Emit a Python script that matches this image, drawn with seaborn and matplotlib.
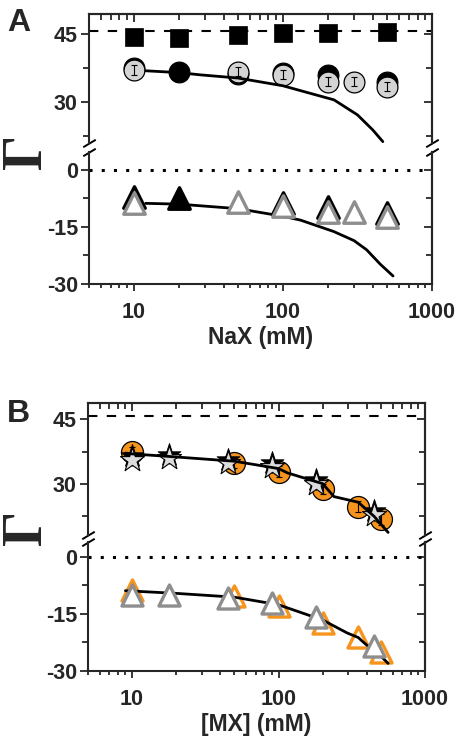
import matplotlib
matplotlib.use('Agg')
import matplotlib.pyplot as plt
import seaborn as sns

# ---- panel A, upper part (Gamma > 0)
a_sq_x = [10, 20, 50, 100, 200, 500]
a_sq_y = [44.4, 44.1, 44.8, 45.2, 45.2, 45.5]
a_bcirc_x = [10, 20, 50, 100, 200, 500]
a_bcirc_y = [37.6, 36.7, 36.3, 36.5, 36.0, 34.5]
a_gcirc_x = [10, 50, 100, 200, 300, 500]
a_gcirc_y = [37.1, 36.7, 36.0, 34.5, 34.5, 33.4]
a_gcirc_err = [1.1, 1.0, 1.0, 1.0, 1.0, 1.0]
a_fit_up_x = [12, 20, 28, 50, 100, 150, 220, 316, 400, 468]
a_fit_up_y = [36.9, 36.5, 36.0, 35.3, 33.6, 32.0, 30.5, 27.2, 23.9, 21.3]
# ---- panel A, lower part (Gamma < 0)
a_btri_open_x = [10, 100, 200, 500]
a_btri_open_y = [-7.0, -8.8, -9.8, -11.3]
a_btri_fill_x = [20]
a_btri_fill_y = [-7.4]
a_gtri_x = [10, 50, 100, 200, 300, 500]
a_gtri_y = [-8.8, -8.5, -9.4, -11.0, -11.2, -12.3]
a_fit_lo_x = [12, 20, 50, 100, 131, 219, 300, 364, 450, 548]
a_fit_lo_y = [-8.8, -9.0, -10.2, -12.2, -13.2, -16.2, -18.6, -21.0, -24.8, -27.9]

# ---- panel B, upper part
b_circ_x = [10, 50, 100, 200, 350, 500]
b_circ_y = [37.5, 35.0, 32.9, 28.8, 24.8, 21.8]
b_circ_err = [1.2, 1.2, 1.2, 1.2, 1.2, 1.2]
b_star_x = [10, 18, 45, 90, 180, 450]
b_star_y = [35.6, 36.0, 34.8, 33.9, 30.0, 22.8]
b_bstar_y = [36.4, 36.8, 35.6, 34.8, 30.9, 23.7]
b_star_err = [1.3, 1.3, 1.3, 1.3, 1.3, 1.3]
b_fit_up_x = [9, 10, 18, 50, 100, 115, 200, 239, 350, 450, 560]
b_fit_up_y = [37.2, 37.0, 36.4, 35.3, 33.6, 32.6, 30.1, 27.1, 25.8, 22.5, 18.8]
# ---- panel B, lower part
b_otri_x = [10, 50, 100, 200, 350, 500]
b_otri_y = [-8.7, -10.4, -13.0, -17.4, -21.0, -24.9]
b_gtri_x = [10, 18, 45, 90, 180, 450]
b_gtri_y = [-10.0, -10.0, -10.9, -12.0, -15.7, -23.4]
b_fit_lo_x = [9, 20, 50, 100, 200, 294, 350, 400, 450, 560]
b_fit_lo_y = [-8.9, -9.6, -10.6, -12.6, -16.6, -20.0, -21.2, -23.2, -24.3, -28.0]

saturation_level = 45.7
zero_level = 0

up_ticks, up_minor = [30, 45], [22.5, 37.5]
lo_ticks, lo_minor = [0, -15, -30], [-7.5, -22.5]
x_ticks = [10, 100, 1000]
x_tick_labels = ['10', '100', '1000']

ORANGE = '#F7941D'
GREY_EDGE = '#8E8E8E'
LIGHT = '#D4D4D4'
TICK_FS = 15.5
LABEL_FS = 16.5

sns.set_style('ticks')
plt.rcParams['font.family'] = ['Liberation Sans', 'DejaVu Sans']
plt.rcParams['font.weight'] = 'bold'
plt.rcParams['axes.unicode_minus'] = False
plt.rcParams['axes.linewidth'] = 1.5

fig = plt.figure(figsize=(4.66, 7.5), dpi=100)
W, H = 466, 750


def rect(x0, x1, ytop, ybot):
    return [x0 / W, 1 - ybot / H, (x1 - x0) / W, (ybot - ytop) / H]


def style(ax, ylim, ticks, minor, upper):
    ax.set_xscale('log')
    ax.set_xlim(5, 1000)
    ax.set_ylim(*ylim)
    ax.set_yticks(ticks)
    ax.set_yticks(minor, minor=True)
    ax.set_yticklabels([str(t) for t in ticks])
    ax.tick_params(axis='y', which='both', direction='out', left=True, right=False,
                   width=1.3, labelsize=TICK_FS, pad=2)
    ax.tick_params(axis='y', which='major', length=6)
    ax.tick_params(axis='y', which='minor', length=4)
    for s in ax.spines.values():
        s.set_linewidth(1.5)
    sec = ax.secondary_yaxis('right')
    sec.set_yticks(ticks)
    sec.set_yticks(minor, minor=True)
    sec.tick_params(which='both', direction='in', labelright=False, width=1.3)
    sec.tick_params(which='major', length=6)
    sec.tick_params(which='minor', length=4)
    sec.spines['right'].set_linewidth(1.5)
    if upper:
        ax.spines['bottom'].set_visible(False)
        ax.tick_params(axis='x', which='both', bottom=False, labelbottom=False)
        secx = ax.secondary_xaxis('top')
        secx.tick_params(which='both', direction='in', labeltop=False, width=1.3)
        secx.tick_params(which='major', length=6)
        secx.tick_params(which='minor', length=4)
        secx.spines['top'].set_linewidth(1.5)
        ax.spines['top'].set_visible(True)
    else:
        ax.spines['top'].set_visible(False)
        ax.set_xticks(x_ticks)
        ax.set_xticklabels(x_tick_labels)
        ax.tick_params(axis='x', which='both', direction='out', bottom=True, top=False,
                       width=1.3, labelsize=TICK_FS, pad=8)
        ax.tick_params(axis='x', which='major', length=5)
        ax.tick_params(axis='x', which='minor', length=3)
    ax.set_ylabel('')


def breaks(ax_up, ax_lo):
    kw = dict(marker=[(-1, -0.6), (1, 0.6)], markersize=9, linestyle='none',
              color='k', mec='k', mew=1.4, clip_on=False)
    ax_up.plot([0, 1], [0, 0], transform=ax_up.transAxes, **kw)
    ax_lo.plot([0, 1], [1, 1], transform=ax_lo.transAxes, **kw)


def open_tri(ax, x, y, edge, s=240, z=3):
    sns.scatterplot(x=x, y=y, ax=ax, marker='^', s=s, color='white',
                    edgecolor=edge, linewidth=2.4, zorder=z)


# ================= Panel A =================
axA_up = fig.add_axes(rect(89, 432, 14, 143))
axA_lo = fig.add_axes(rect(89, 432, 152, 284))

axA_up.axhline(saturation_level, color='k', lw=1.5, ls=(0, (4.5, 4.5)), zorder=1)
sns.scatterplot(x=a_sq_x, y=a_sq_y, ax=axA_up, marker='s', s=170, color='black',
                edgecolor='black', linewidth=0.5, zorder=3)
sns.scatterplot(x=a_bcirc_x, y=a_bcirc_y, ax=axA_up, marker='o', s=225, color='black',
                edgecolor='black', linewidth=0.8, zorder=2)
sns.scatterplot(x=a_gcirc_x, y=a_gcirc_y, ax=axA_up, marker='o', s=225, color=LIGHT,
                edgecolor='black', linewidth=0.9, zorder=3)
axA_up.errorbar(a_gcirc_x, a_gcirc_y, yerr=a_gcirc_err, fmt='none', ecolor='black',
                elinewidth=0.8, capsize=2.2, capthick=0.8, zorder=4)
sns.lineplot(x=a_fit_up_x, y=a_fit_up_y, ax=axA_up, color='black', lw=2, zorder=5)

axA_lo.axhline(zero_level, color='k', lw=2.2, ls=(0, (1, 3)), zorder=1)
open_tri(axA_lo, a_btri_open_x, a_btri_open_y, 'black', z=2)
sns.scatterplot(x=a_btri_fill_x, y=a_btri_fill_y, ax=axA_lo, marker='^', s=240,
                color='black', edgecolor='black', linewidth=2.4, zorder=2)
open_tri(axA_lo, a_gtri_x, a_gtri_y, GREY_EDGE, z=3)
sns.lineplot(x=a_fit_lo_x, y=a_fit_lo_y, ax=axA_lo, color='black', lw=2, zorder=1.5)

style(axA_up, (21, 49.4), up_ticks, up_minor, True)
style(axA_lo, (-30, 4.7), lo_ticks, lo_minor, False)
axA_lo.set_xlabel('NaX (mM)', fontsize=LABEL_FS, fontweight='bold', labelpad=2)
breaks(axA_up, axA_lo)

# ================= Panel B =================
axB_up = fig.add_axes(rect(88, 425, 403, 535))
axB_lo = fig.add_axes(rect(88, 425, 542, 671))

axB_up.axhline(saturation_level, color='k', lw=1.5, ls=(0, (4.5, 4.5)), zorder=1)
sns.scatterplot(x=b_circ_x, y=b_circ_y, ax=axB_up, marker='o', s=250, color=ORANGE,
                edgecolor='black', linewidth=0.9, zorder=2)
axB_up.errorbar(b_circ_x, b_circ_y, yerr=b_circ_err, fmt='none', ecolor='black',
                elinewidth=0.8, capsize=2.2, capthick=0.8, zorder=2.5)
sns.scatterplot(x=b_star_x, y=b_bstar_y, ax=axB_up, marker='*', s=300, color='black',
                edgecolor='black', linewidth=0.6, zorder=3)
sns.scatterplot(x=b_star_x, y=b_star_y, ax=axB_up, marker='*', s=330, color='#DCDCDC',
                edgecolor='black', linewidth=0.8, zorder=3.2)
axB_up.errorbar(b_star_x, b_star_y, yerr=b_star_err, fmt='none', ecolor='black',
                elinewidth=0.8, capsize=0, zorder=3.1)
sns.lineplot(x=b_fit_up_x, y=b_fit_up_y, ax=axB_up, color='black', lw=2, zorder=5)

axB_lo.axhline(zero_level, color='k', lw=2.2, ls=(0, (1, 3)), zorder=1)
open_tri(axB_lo, b_otri_x, b_otri_y, ORANGE, s=230, z=2)
sns.lineplot(x=b_fit_lo_x, y=b_fit_lo_y, ax=axB_lo, color='black', lw=2, zorder=2.5)
open_tri(axB_lo, b_gtri_x, b_gtri_y, GREY_EDGE, s=230, z=3)

style(axB_up, (18.2, 48.8), up_ticks, up_minor, True)
style(axB_lo, (-30, 3.9), lo_ticks, lo_minor, False)
axB_lo.set_xlabel('[MX] (mM)', fontsize=LABEL_FS, fontweight='bold', labelpad=2)
breaks(axB_up, axB_lo)

# ---- labels
fig.text(7 / W, 1 - 23 / H, 'A', fontsize=23, fontweight='bold', ha='left', va='center')
fig.text(7 / W, 1 - 414 / H, 'B', fontsize=23, fontweight='bold', ha='left', va='center')
for yc in (151, 527):
    fig.text(0.5 / W, 1 - yc / H, 'Γ', rotation=90, ha='left', va='center',
             fontsize=40, fontweight='bold', family=['Liberation Serif', 'DejaVu Serif'])

fig.savefig('out.png', dpi=100)
